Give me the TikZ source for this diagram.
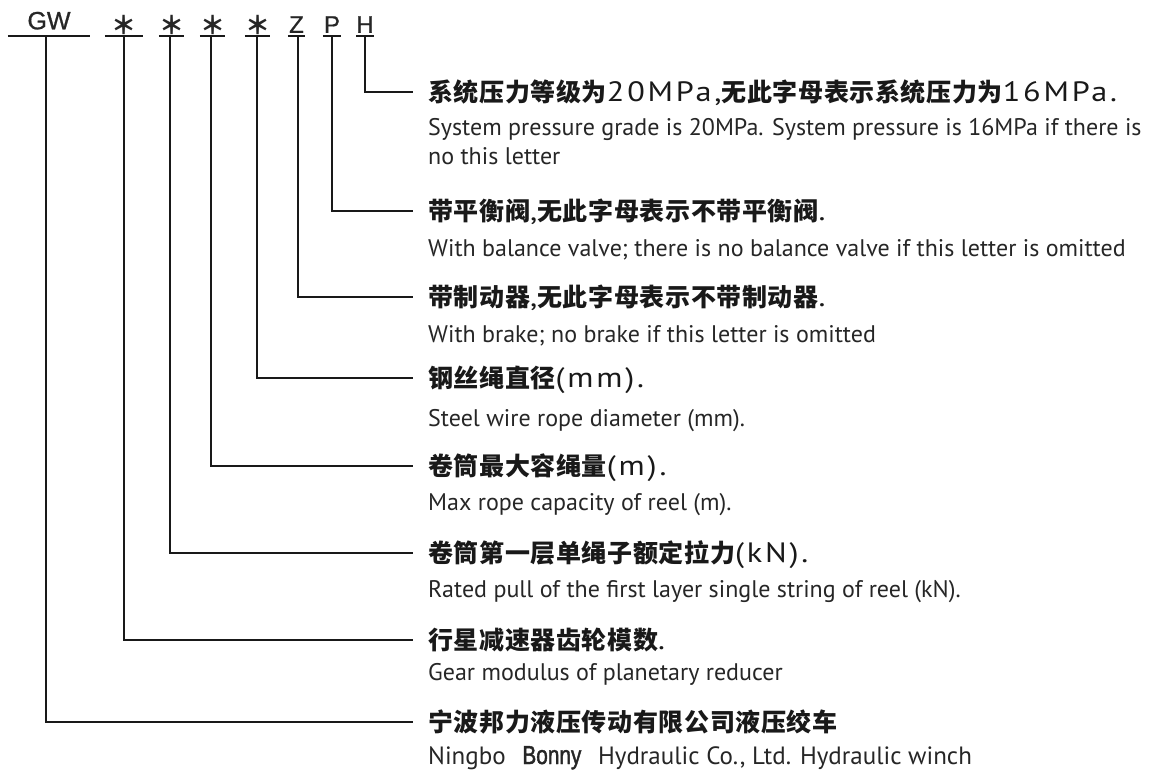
\documentclass[tikz,border=0pt]{standalone}
\usepackage{fontspec}
\setmainfont{PT Sans}
\newfontfamily\cjkfont[LetterSpace=2.5]{Noto Sans CJK SC}
\newfontfamily\hlatfont[LetterSpace=10,FakeStretch=1.15]{PT Sans}
\newfontfamily\engfont{PT Sans}
\newfontfamily\codefont[FakeBold=0.8]{Liberation Sans}
\newfontfamily\starfont{Noto Sans CJK SC}
\newfontfamily\bonnyfont[FakeStretch=0.8,FakeBold=1.5]{Liberation Sans}
\newcommand\latpart[1]{{\hlatfont\mdseries\fontsize{28}{28}\selectfont #1}}
\newcommand\bonnyword[1]{{\bonnyfont\fontsize{26}{26}\selectfont #1}}
\begin{document}
\begin{tikzpicture}[x=1pt,y=-1pt,
  code/.style={font=\codefont\fontsize{24}{24}\selectfont, inner xsep=0pt, inner ysep=3pt, text depth=0pt, anchor=south, minimum width=#1, text=black!85},
  gwcode/.style={code=#1, font=\codefont\fontsize{25}{25}\selectfont, inner ysep=6.5pt},
  star/.style={code=#1, font=\starfont\bfseries\fontsize{25}{25}\selectfont, inner ysep=1.5pt},
  uline/.style={line width=1.4pt, black!90},
  link/.style={line width=1.5pt, black!90},
  head/.style={font=\cjkfont\bfseries\fontsize{25}{25}\selectfont, anchor=west, inner xsep=15pt, inner ysep=0pt, text height=22pt, text depth=3pt, text=black!90},
  eng/.style={font=\engfont\fontsize{24}{24}\selectfont, anchor=base west, inner sep=0pt, text=black!85}]
\useasboundingbox[fill=white] (0,0) rectangle (1157,771);

% code letters
\node[gwcode=82] (gw) at (49,36) {GW};
\node[star=38] (s1) at (124,36) {＊};
\node[star=17] (s2) at (171.5,36) {＊};
\node[star=17] (s3) at (212.5,36) {＊};
\node[star=17] (s4) at (257.5,36) {＊};
\node[code=17] (z) at (296.5,36) {Z};
\node[code=18] (p) at (332,36) {P};
\node[code=16] (h) at (365,36) {H};

\foreach \n in {gw,s1,s2,s3,s4,z,p,h}
  \draw[uline] (\n.south west) -- (\n.south east);

% headings
\node[head] (th) at (413,92) {系统压力等级为\latpart{20MPa,}无此字母表示系统压力为\latpart{16MPa.}};
\node[eng] (eh1) at (428,135) {System pressure grade is 20MPa. System pressure is 16MPa if there is};
\node[eng] (eh2) at (428,164) {no this letter};

\node[head] (tp) at (413,211) {带平衡阀\latpart{,}无此字母表示不带平衡阀\latpart{.}};
\node[eng] (ep) at (428,256) {With balance valve; there is no balance valve if this letter is omitted};

\node[head] (tz) at (413,297) {带制动器\latpart{,}无此字母表示不带制动器\latpart{.}};
\node[eng] (ez) at (428,342) {With brake; no brake if this letter is omitted};

\node[head] (t4) at (413,378) {钢丝绳直径\latpart{(mm).}};
\node[eng] (e4) at (428,426) {Steel wire rope diameter (mm).};

\node[head] (t3) at (413,466) {卷筒最大容绳量\latpart{(m).}};
\node[eng] (e3) at (428,510) {Max rope capacity of reel (m).};

\node[head] (t2) at (413,553) {卷筒第一层单绳子额定拉力\latpart{(kN).}};
\node[eng] (e2) at (428,597) {Rated pull of the first layer single string of reel (kN).};

\node[head] (t1) at (413,640) {行星减速器齿轮模数\latpart{.}};
\node[eng] (e1) at (428,680) {Gear modulus of planetary reducer};

\node[head] (tg) at (413,722) {宁波邦力液压传动有限公司液压绞车};
\node[eng, font=\engfont\fontsize{25}{25}\selectfont] (eg) at (428,764) {Ningbo\hspace{10pt} \bonnyword{Bonny}\hspace{10pt} Hydraulic Co., Ltd. Hydraulic winch};

% connectors
\draw[link] (h.south) |- (th.west);
\draw[link] (p.south) |- (tp.west);
\draw[link] ([xshift=1.5pt]z.south) |- (tz.west);
\draw[link] ([xshift=-0.5pt]s4.south) |- (t4.west);
\draw[link] ([xshift=-1.5pt]s3.south) |- (t3.west);
\draw[link] ([xshift=-1.5pt]s2.south) |- (t2.west);
\draw[link] (s1.south) |- (t1.west);
\draw[link] ([xshift=-3pt]gw.south) |- (tg.west);
\end{tikzpicture}
\end{document}
